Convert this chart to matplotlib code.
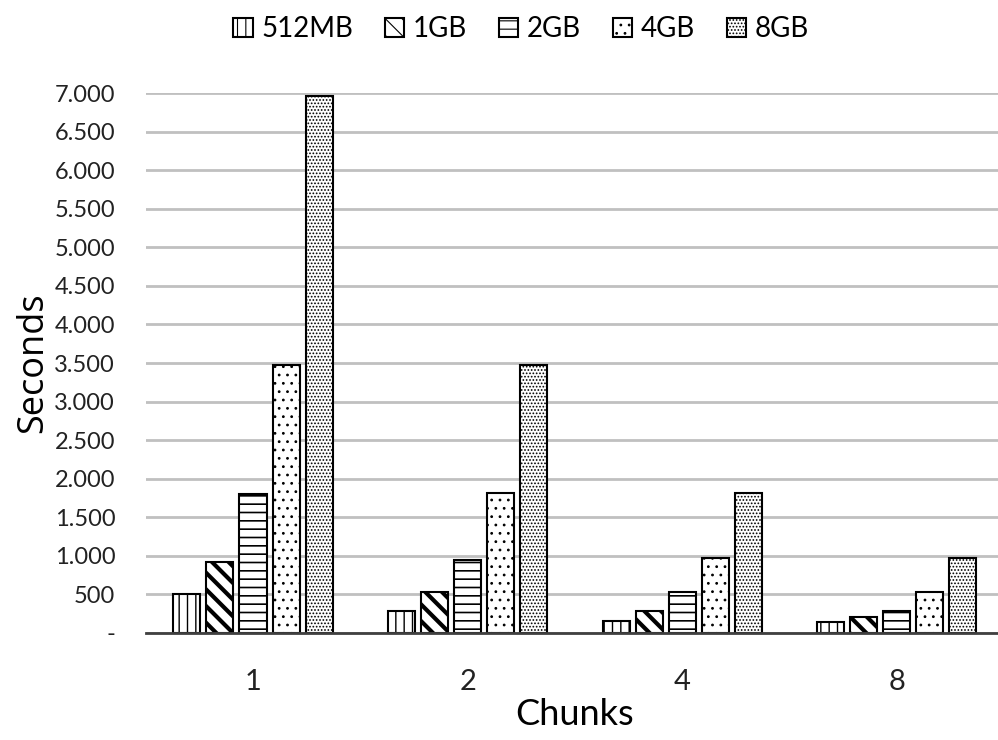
import matplotlib
matplotlib.use("Agg")
import matplotlib.pyplot as plt
from matplotlib.ticker import FuncFormatter
import numpy as np

chunks = ["1", "2", "4", "8"]
sizes = ["512MB", "1GB", "2GB", "4GB", "8GB"]
seconds = {
    "512MB": [500, 280, 160, 142],
    "1GB": [916, 534, 285, 202],
    "2GB": [1804, 948, 529, 284],
    "4GB": [3478, 1810, 976, 529],
    "8GB": [6957, 3478, 1810, 976],
}
hatches = ["||", "\\\\", "--", "..", "....."]
hatch_lw = [1.0, 3.0, 1.2, 0.8, 0.8]

txt = ["Lato", "DejaVu Sans"]

fig = plt.figure(figsize=(9.98, 7.4), dpi=100)
ax = fig.add_axes([0.146, 0.1446, 0.86, 0.7297])

x = np.arange(len(chunks))
w = 0.126
pitch = 0.154
for i, s in enumerate(sizes):
    plt.rcParams["hatch.linewidth"] = hatch_lw[i]
    ax.bar(x + (i - 2) * pitch, seconds[s], width=w, color="white",
           edgecolor="black", linewidth=1.5, hatch=hatches[i], label=s, zorder=3)

ax.set_xlim(-0.5, 3.5)
ax.set_ylim(0, 7000)
ax.set_yticks(np.arange(0, 7001, 500))
ax.yaxis.set_major_formatter(FuncFormatter(
    lambda v, p: "-" if v == 0 else f"{int(v):,}".replace(",", ".")))
ax.set_xticks(x)
ax.set_xticklabels(chunks)
ax.grid(axis="y", color="#c0c0c0", linewidth=2, zorder=0)
for sp in ["top", "right", "left"]:
    ax.spines[sp].set_visible(False)
ax.spines["bottom"].set_color("#404040")
ax.spines["bottom"].set_linewidth(2)
ax.spines["bottom"].set_zorder(4)
ax.tick_params(axis="both", length=0)
ax.tick_params(axis="y", pad=22)
ax.tick_params(axis="x", pad=26)
for lab in ax.get_yticklabels():
    lab.set_fontfamily(txt)
    lab.set_fontsize(17)
    lab.set_color("#222222")
for lab in ax.get_xticklabels():
    lab.set_fontfamily(txt)
    lab.set_fontsize(21)
    lab.set_color("#222222")

ax.set_ylabel("Seconds", fontsize=26, family=["Open Sans", "DejaVu Sans"], labelpad=2)
ax.set_xlabel("Chunks", fontsize=26, family=txt, labelpad=2)

leg = fig.legend(loc="upper center", bbox_to_anchor=(0.522, 1.012), ncol=5, frameon=False,
                 prop={"family": txt, "size": 20}, handlelength=0.7, handleheight=0.7,
                 handletextpad=0.3, columnspacing=1.15)

fig.savefig("out.png", dpi=100)
